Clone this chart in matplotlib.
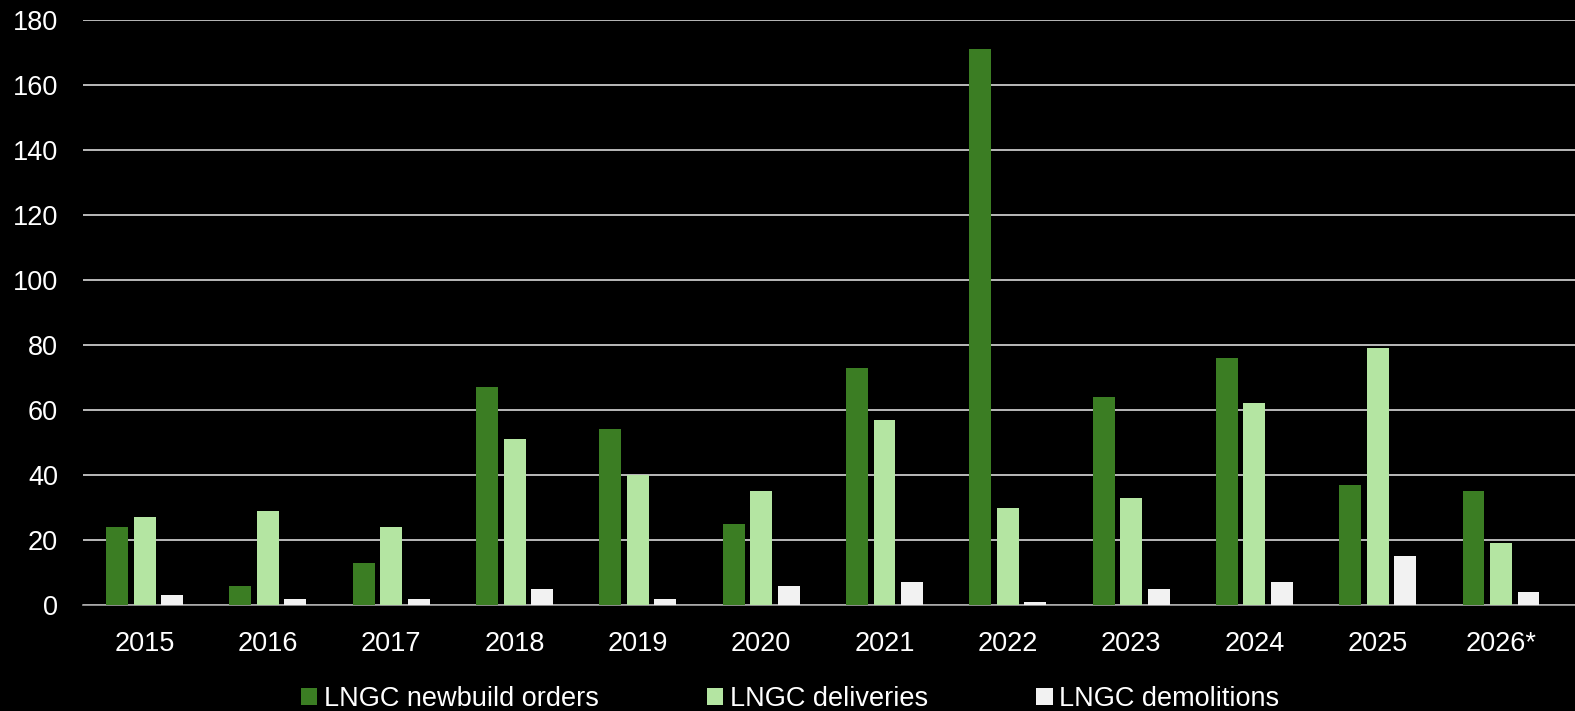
import numpy as np
import matplotlib
matplotlib.use("Agg")
import matplotlib.pyplot as plt

# values (number of LNG carriers)
years = ["2015", "2016", "2017", "2018", "2019", "2020", "2021", "2022", "2023", "2024", "2025", "2026*"]
orders = [24, 6, 13, 67, 54, 25, 73, 171, 64, 76, 37, 35]
deliveries = [27, 29, 24, 51, 40, 35, 57, 30, 33, 62, 79, 19]
demolitions = [3, 2, 2, 5, 2, 6, 7, 1, 5, 7, 15, 4]
y_ticks = [0, 20, 40, 60, 80, 100, 120, 140, 160, 180]

C_ORD = "#3B7D23"
C_DEL = "#B4E5A2"
C_DEM = "#F2F2F2"
FS = 19.5

plt.rcParams.update({"font.family": ["Liberation Sans", "DejaVu Sans"], "font.size": FS})

fig = plt.figure(figsize=(15.75, 7.11), dpi=100, facecolor="black")
ax = fig.add_axes([83 / 1575, 1 - 605 / 711, (1575 - 83) / 1575, 585 / 711], facecolor="black")

x = np.arange(len(years))
w = 0.178
off = 0.223
ax.bar(x - off, orders, w, color=C_ORD, label="LNGC newbuild orders", zorder=3)
ax.bar(x, deliveries, w, color=C_DEL, label="LNGC deliveries", zorder=3)
ax.bar(x + off, demolitions, w, color=C_DEM, label="LNGC demolitions", zorder=3)

ax.set_ylim(0, 180)
ax.set_xlim(-0.5, 11.6)
ax.set_yticks(y_ticks)
ax.set_xticks(x)
ax.set_xticklabels(years)
ax.yaxis.grid(True, color="#D9D9D9", linewidth=1.2, zorder=0)
ax.set_axisbelow(True)
for s in ["top", "right", "left"]:
    ax.spines[s].set_visible(False)
ax.spines["bottom"].set_color("#A6A6A6")
ax.spines["bottom"].set_linewidth(1.2)
ax.tick_params(axis="both", length=0, colors="white", labelsize=FS)
ax.tick_params(axis="y", pad=18)
ax.tick_params(axis="x", pad=19)

leg = fig.legend(loc="center", bbox_to_anchor=(790 / 1575, 1 - 699 / 711), ncol=3, frameon=False,
                 handlelength=0.6, handleheight=0.6, handletextpad=0.25, columnspacing=4.0,
                 fontsize=FS)
for t in leg.get_texts():
    t.set_color("white")

fig.savefig("out.png", dpi=100, facecolor="black")
